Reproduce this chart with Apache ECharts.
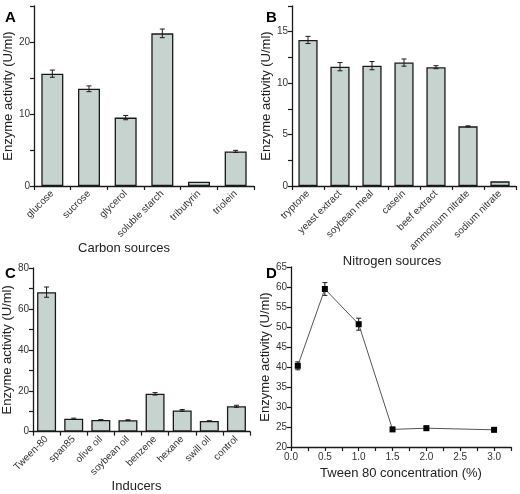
<!DOCTYPE html>
<html>
<head>
<meta charset="utf-8">
<script src="https://cdn.jsdelivr.net/npm/echarts@6/dist/echarts.min.js"></script>
<style>
html, body { margin: 0; padding: 0; background: #fff; }
#chart { width: 520px; height: 494px; }
</style>
</head>
<body>
<div id="chart"></div>
<script>
// panel A - carbon sources
const carbonNames = ['glucose', 'sucrose', 'glycerol', 'soluble starch', 'tributyrin', 'triolein'];
const carbonValues = [15.6, 13.5, 9.5, 21.2, 0.6, 4.8];
const carbonErrors = [0.5, 0.4, 0.3, 0.6, 0, 0.15];
// panel B - nitrogen sources
const nitrogenNames = ['tryptone', 'yeast extract', 'soybean meal', 'casein', 'beef extract', 'ammonium nitrate', 'sodium nitrate'];
const nitrogenValues = [14.2, 11.6, 11.7, 12.0, 11.55, 5.8, 0.45];
const nitrogenErrors = [0.35, 0.4, 0.4, 0.35, 0.15, 0.05, 0];
// panel C - inducers
const inducerNames = ['Tween-80', 'span85', 'olive oil', 'soybean oil', 'benzene', 'hexane', 'swill oil', 'control'];
const inducerValues = [68.2, 6.3, 5.7, 5.6, 18.5, 10.4, 5.2, 12.4];
const inducerErrors = [2.5, 0.3, 0.2, 0.2, 0.6, 0.4, 0.15, 0.5];
// panel D - tween 80 concentration
const tweenConc = [0.1, 0.5, 1.0, 1.5, 2.0, 3.0];
const tweenValues = [40.3, 59.5, 50.7, 24.4, 24.7, 24.3];
const tweenErrors = [1.0, 1.6, 1.5, 0.5, 0.5, 0.5];

const chart = echarts.init(document.getElementById('chart'));
const FONT = 'Liberation Sans, Arial, sans-serif';
const TXT = '#333';
const AX = '#1a1a1a';

function axisLineStyle() {
  return { show: true, lineStyle: { color: AX, width: 1.3 } };
}

function catAxis(idx, names, title, gap, pad) {
  return {
    type: 'category', gridIndex: idx, data: names,
    axisLine: axisLineStyle(),
    axisTick: { show: true, inside: false, length: 4, lineStyle: { color: AX, width: 1.2 } },
    axisLabel: { rotate: 45, fontSize: 10, color: TXT, fontFamily: FONT, margin: 6, interval: 0 },
    name: title, nameLocation: 'middle', nameGap: gap,
    nameTextStyle: { fontSize: 13, color: '#222', fontFamily: FONT, padding: pad || 0 },
    splitLine: { show: false }
  };
}

function valAxis(idx, min, max, step, labelStep) {
  return {
    type: 'value', gridIndex: idx, min: min, max: max, interval: step,
    axisLine: axisLineStyle(),
    axisTick: { show: true, inside: false, length: 4, lineStyle: { color: AX, width: 1.2 } },
    axisLabel: {
      fontSize: 10, color: TXT, fontFamily: FONT, margin: 4,
      formatter: v => (Math.abs(v / labelStep - Math.round(v / labelStep)) < 1e-6 ? String(v) : '')
    },
    splitLine: { show: false },
    name: 'Enzyme activity (U/ml)', nameLocation: 'middle', nameRotate: 90, nameGap: 14,
    nameTextStyle: { fontSize: 13, color: '#222', fontFamily: FONT }
  };
}

function errorSeries(idx, xs, vals, errs, cap) {
  return {
    type: 'custom', xAxisIndex: idx, yAxisIndex: idx, z: 5,
    data: vals.map((v, i) => [xs[i], v, errs[i]]),
    encode: { x: 0, y: 1 },
    renderItem: function (params, api) {
      const x = api.value(0), v = api.value(1), e = api.value(2);
      if (!e) return null;
      const hi = api.coord([x, v + e]);
      const lo = api.coord([x, v - e]);
      const st = { stroke: AX, lineWidth: 1 };
      return {
        type: 'group',
        children: [
          { type: 'line', shape: { x1: hi[0], y1: hi[1], x2: lo[0], y2: lo[1] }, style: st },
          { type: 'line', shape: { x1: hi[0] - cap, y1: hi[1], x2: hi[0] + cap, y2: hi[1] }, style: st },
          { type: 'line', shape: { x1: lo[0] - cap, y1: lo[1], x2: lo[0] + cap, y2: lo[1] }, style: st }
        ]
      };
    }
  };
}

function barSeries(idx, vals, gap) {
  return {
    type: 'bar', xAxisIndex: idx, yAxisIndex: idx, data: vals,
    barCategoryGap: gap,
    itemStyle: { color: '#c7d3cf', borderColor: AX, borderWidth: 1.3 }
  };
}

const yA = valAxis(0, 0, 25, 5, 10); yA.nameGap = 16;
const yB = valAxis(1, 0, 17.5, 2.5, 5); yB.nameGap = 18;
const yC = valAxis(2, 0, 80, 10, 20); yC.nameGap = 17;
const yD = valAxis(3, 20, 65, 5, 5); yD.nameGap = 17;

const option = {
  animation: false,
  backgroundColor: '#fff',
  textStyle: { fontFamily: FONT },
  title: [
    { text: 'A', left: 0, top: 5, textStyle: { fontSize: 15, fontWeight: 'bold', color: '#000', fontFamily: FONT } },
    { text: 'B', left: 261, top: 5, textStyle: { fontSize: 15, fontWeight: 'bold', color: '#000', fontFamily: FONT } },
    { text: 'C', left: 0, top: 261, textStyle: { fontSize: 15, fontWeight: 'bold', color: '#000', fontFamily: FONT } },
    { text: 'D', left: 261, top: 261, textStyle: { fontSize: 15, fontWeight: 'bold', color: '#000', fontFamily: FONT } }
  ],
  grid: [
    { left: 34, top: 6, width: 220, height: 180 },
    { left: 292, top: 6, width: 224, height: 180 },
    { left: 32, top: 268, width: 218, height: 179 },
    { left: 291, top: 267, width: 220, height: 180 }
  ],
  xAxis: [
    catAxis(0, carbonNames, 'Carbon sources', 54, [0, 40, 0, 0]),
    catAxis(1, nitrogenNames, 'Nitrogen sources', 60, [0, 24, 0, 0]),
    catAxis(2, inducerNames, 'Inducers', 44, [0, 10, 0, 0]),
    {
      type: 'value', gridIndex: 3, min: 0, max: 3.25, interval: 0.25,
      axisLine: axisLineStyle(),
      axisTick: { show: true, inside: false, length: 4, lineStyle: { color: AX, width: 1.2 } },
      axisLabel: {
        fontSize: 10, color: TXT, fontFamily: FONT, margin: 5, showMaxLabel: true,
        formatter: v => (Math.abs(v * 2 - Math.round(v * 2)) < 1e-6 ? v.toFixed(1) : '')
      },
      splitLine: { show: false },
      name: 'Tween 80 concentration (%)', nameLocation: 'middle', nameGap: 20,
      nameTextStyle: { fontSize: 13, color: '#222', fontFamily: FONT }
    }
  ],
  yAxis: [yA, yB, yC, yD],
  series: [
    barSeries(0, carbonValues, '40%'),
    errorSeries(0, carbonValues.map((_, i) => i), carbonValues, carbonErrors, 2.5),
    barSeries(1, nitrogenValues, '40%'),
    errorSeries(1, nitrogenValues.map((_, i) => i), nitrogenValues, nitrogenErrors, 2.5),
    barSeries(2, inducerValues, '30%'),
    errorSeries(2, inducerValues.map((_, i) => i), inducerValues, inducerErrors, 2.5),
    {
      type: 'line', xAxisIndex: 3, yAxisIndex: 3, z: 6,
      data: tweenConc.map((x, i) => [x, tweenValues[i]]),
      symbol: 'rect', symbolSize: 6,
      itemStyle: { color: '#000' },
      lineStyle: { color: '#555', width: 1 }
    },
    errorSeries(3, tweenConc, tweenValues, tweenErrors, 2.5)
  ]
};

chart.setOption(option);
</script>
</body>
</html>
